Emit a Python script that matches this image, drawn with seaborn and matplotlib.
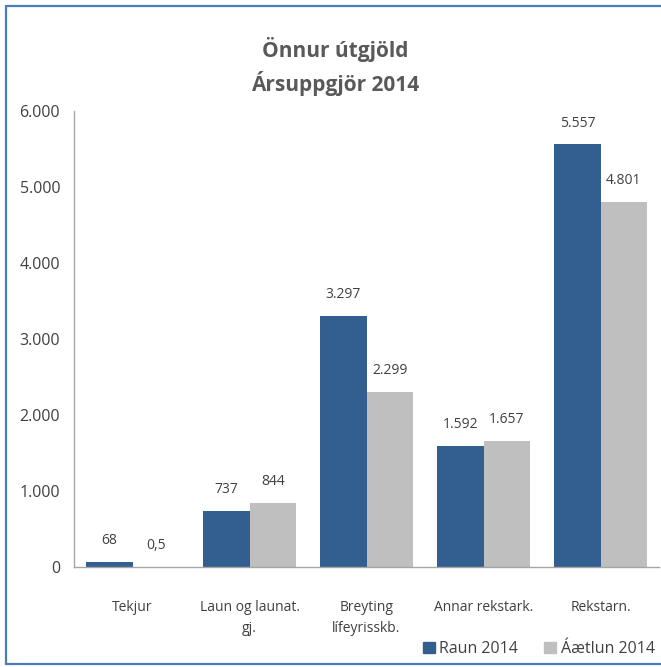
import matplotlib
matplotlib.use("Agg")
import matplotlib.pyplot as plt
from matplotlib.patches import Rectangle
from matplotlib.lines import Line2D
import seaborn as sns
import pandas as pd

categories = ["Tekjur", "Laun og launat.\ngj.", "Breyting\nlífeyrisskb.", "Annar rekstark.", "Rekstarn."]
raun_2014 = [68, 737, 3297, 1592, 5557]
aaetlun_2014 = [0.5, 844, 2299, 1657, 4801]
series_names = ["Raun 2014", "Áætlun 2014"]
y_ticks = [0, 1000, 2000, 3000, 4000, 5000, 6000]

df = pd.DataFrame({
    "flokkur": categories * 2,
    "upphæð": raun_2014 + aaetlun_2014,
    "röð": [series_names[0]] * len(categories) + [series_names[1]] * len(categories),
})

sns.set_style("white")
plt.rcParams["font.family"] = ["Open Sans", "DejaVu Sans"]

text_col = "#404040"
colors = ["#335E90", "#BFBFBF"]

fig = plt.figure(figsize=(6.61, 6.67), dpi=100)
ax = fig.add_axes([0.112, 0.15, 0.885, 0.684])

sns.barplot(data=df, x="flokkur", y="upphæð", hue="röð", palette=colors,
            width=0.79, saturation=1, linewidth=0, ax=ax, legend=False)


def fmt(v):
    if v < 1:
        return f"{v:.1f}".replace(".", ",")
    return f"{v:,.0f}".replace(",", ".")


for cont in ax.containers:
    ax.bar_label(cont, labels=[fmt(b.get_height()) for b in cont],
                 padding=10, fontsize=10, color=text_col)

ax.set_ylim(0, 6000)
ax.set_xlim(-0.5, len(categories) - 0.5)
ax.set_yticks(y_ticks)
ax.set_yticklabels([f"{t:,}".replace(",", ".") for t in y_ticks], fontsize=11.5, color=text_col)
ax.set_xticks(range(len(categories)))
ax.set_xticklabels(categories, fontsize=10, color=text_col, linespacing=1.5)
ax.set_xticks([i - 0.5 for i in range(len(categories) + 1)], minor=True)
ax.tick_params(axis="x", which="major", length=0, pad=24)
ax.tick_params(axis="x", which="minor", length=5, color="#A6A6A6", width=1, direction="out")
ax.tick_params(axis="y", length=5, color="#A6A6A6", width=1, direction="out", pad=5)
ax.set_xlabel("")
ax.set_ylabel("")
for side in ["top", "right"]:
    ax.spines[side].set_visible(False)
for side in ["left", "bottom"]:
    ax.spines[side].set_color("#A6A6A6")
    ax.spines[side].set_linewidth(1)

fig.text(0.507, 0.9, "Önnur útgjöld\nÁrsuppgjör 2014", ha="center", va="center",
         fontsize=15, fontweight="bold", color="#595959", linespacing=1.45)

handles = [Rectangle((0, 0), 1, 1, color=c) for c in colors]
fig.legend(handles, series_names, loc="center right", bbox_to_anchor=(1.0, 0.027),
           ncol=2, frameon=False, fontsize=11.5, handlelength=0.75, handleheight=0.75,
           handletextpad=0.3, columnspacing=1.6, labelcolor=text_col, borderaxespad=0.0)

# blue frame on left, top and bottom (right edge is cut off in the original)
frame_col = "#4A7EBB"
x0, y0, y1 = 5.5 / 661, 1 - 664 / 667, 1 - 6 / 667
for xs, ys in [([x0, x0], [y0, y1]), ([x0, 1.0], [y1, y1]), ([x0, 1.0], [y0, y0])]:
    fig.add_artist(Line2D(xs, ys, transform=fig.transFigure, color=frame_col, linewidth=1.6))

fig.savefig("out.png", dpi=100)
